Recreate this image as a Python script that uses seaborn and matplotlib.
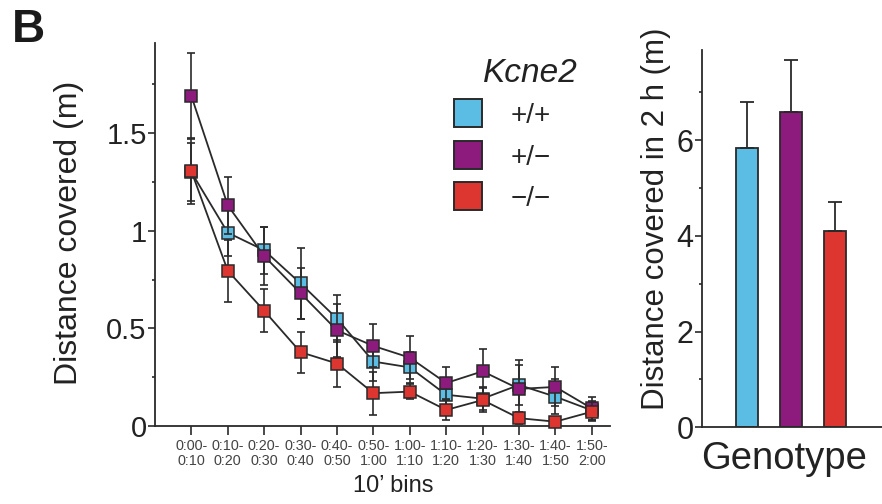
import numpy as np
import pandas as pd
import seaborn as sns
import matplotlib.pyplot as plt
from matplotlib.lines import Line2D
from matplotlib.ticker import MultipleLocator

sns.set_style("ticks")
plt.rcParams["font.family"] = ["Liberation Sans", "DejaVu Sans"]

# 10 min bins
bin_labels = ["0:00-\n0:10", "0:10-\n0:20", "0:20-\n0:30", "0:30-\n0:40",
              "0:40-\n0:50", "0:50-\n1:00", "1:00-\n1:10", "1:10-\n1:20",
              "1:20-\n1:30", "1:30-\n1:40", "1:40-\n1:50", "1:50-\n2:00"]
genotypes = ["+/+", "+/\u2212", "\u2212/\u2212"]
colors = ["#5BBCE4", "#8C1B7D", "#DD3530"]

wt_mean = [1.30, 0.99, 0.90, 0.73, 0.55, 0.33, 0.30, 0.16, 0.14, 0.21, 0.15, 0.08]
wt_sem = [0.15, 0.12, 0.12, 0.18, 0.12, 0.10, 0.08, 0.08, 0.06, 0.10, 0.09, 0.05]
het_mean = [1.69, 1.13, 0.87, 0.68, 0.49, 0.41, 0.35, 0.22, 0.28, 0.19, 0.20, 0.09]
het_sem = [0.22, 0.145, 0.15, 0.13, 0.135, 0.11, 0.11, 0.08, 0.115, 0.15, 0.10, 0.06]
ko_mean = [1.305, 0.795, 0.59, 0.378, 0.32, 0.168, 0.176, 0.082, 0.133, 0.04, 0.022, 0.073]
ko_sem = [0.17, 0.16, 0.11, 0.105, 0.12, 0.11, 0.04, 0.05, 0.06, 0.03, 0.02, 0.05]

# total distance in 2 h
total_mean = [5.83, 6.59, 4.10]
total_sem = [0.97, 1.08, 0.60]

rows = []
for g, m, s in zip(genotypes, [wt_mean, het_mean, ko_mean], [wt_sem, het_sem, ko_sem]):
    for i in range(len(bin_labels)):
        rows.append({"bin": i, "genotype": g, "mean": m[i], "sem": s[i]})
df = pd.DataFrame(rows)
totals = pd.DataFrame({"genotype": genotypes, "total": total_mean, "sem": total_sem})

fig = plt.figure(figsize=(8.82, 5.04), dpi=100)
ax = fig.add_axes([0.1757, 0.1548, 0.5159, 0.7593])
ax2 = fig.add_axes([0.7956, 0.1522, 0.2044, 0.7486])

ink = "#2a2a2a"

# time course: each genotype drawn on top of the previous one
for k, (g, c) in enumerate(zip(genotypes, colors)):
    sub = df[df.genotype == g]
    ax.errorbar(sub["bin"], sub["mean"], yerr=sub["sem"], fmt="none",
                ecolor=ink, elinewidth=1.2, capsize=3.2, capthick=1.2,
                zorder=2 + 3 * k, clip_on=False)
    sns.lineplot(data=sub, x="bin", y="mean", color=ink, linewidth=1.3,
                 marker="s", markersize=9, markerfacecolor=c,
                 markeredgecolor=ink, markeredgewidth=1.1,
                 zorder=3 + 3 * k, ax=ax, clip_on=False)

ax.set_xlim(-1.0, 11.5)
ax.set_ylim(0, 1.96)
ax.set_xticks(range(len(bin_labels)))
ax.set_xticklabels(bin_labels, fontsize=10.4, color="#444444", linespacing=1.1)
ax.set_yticks([0, 0.5, 1, 1.5])
ax.set_yticklabels(["0", "0.5", "1", "1.5"], fontsize=21, color="#222222")
ax.yaxis.set_minor_locator(MultipleLocator(0.25))
ax.tick_params(axis="y", which="major", length=5, width=1.2, pad=1, color=ink)
ax.tick_params(axis="y", which="minor", length=2.5, width=1.2, color=ink)
ax.tick_params(axis="x", which="major", length=6.5, width=1.2, pad=3, color=ink)
for sp in ["left", "bottom"]:
    ax.spines[sp].set_linewidth(1.3)
    ax.spines[sp].set_color(ink)
sns.despine(ax=ax)
ax.set_xlabel("10\u2019 bins", fontsize=17, color="#222222")
ax.xaxis.set_label_coords(0.523, -0.128)
ax.xaxis.label.set_va("top")
ax.set_ylabel("Distance covered (m)", fontsize=23, color="#222222")
ax.yaxis.set_label_coords(-0.157, 0.504)

handles = [Line2D([], [], linestyle="none", marker="s", markersize=20,
                  markerfacecolor=c, markeredgecolor=ink, markeredgewidth=1.4)
           for c in colors]
ax.legend(handles, genotypes, loc="upper left", bbox_to_anchor=(454.6 / 882, 1 - 103 / 504),
          bbox_transform=fig.transFigure, frameon=False, fontsize=20,
          handlelength=1.0, handletextpad=1.0, labelspacing=0.56,
          borderpad=0, borderaxespad=0)
fig.text(530 / 882, 1 - 73 / 504, "Kcne2", fontsize=24, style="italic",
         ha="center", va="center", color="#222222")

# totals
sns.barplot(data=totals, x="genotype", y="total", hue="genotype", palette=colors,
            saturation=1, width=0.5, edgecolor=ink, linewidth=1.3, legend=False, ax=ax2)
ax2.errorbar(range(len(genotypes)), totals["total"],
             yerr=[np.zeros(len(genotypes)), totals["sem"]], fmt="none",
             ecolor=ink, elinewidth=1.3, capsize=4.8, capthick=1.3, zorder=1)
ax2.set_xlim(-1.016, 3.054)
ax2.set_ylim(0, 7.88)
ax2.set_yticks([0, 2, 4, 6])
ax2.set_yticklabels(["0", "2", "4", "6"], fontsize=22, color="#222222")
ax2.yaxis.set_minor_locator(MultipleLocator(1))
ax2.tick_params(axis="y", which="major", length=5, width=1.2, pad=1, color=ink)
ax2.tick_params(axis="y", which="minor", length=2.5, width=1.2, color=ink)
ax2.set_xticks([])
for sp in ["left", "bottom"]:
    ax2.spines[sp].set_linewidth(1.3)
    ax2.spines[sp].set_color(ink)
sns.despine(ax=ax2)
ax2.set_xlabel("Genotype", fontsize=27.5, color="#222222")
ax2.xaxis.set_label_coords(0.456, -0.036)
ax2.xaxis.label.set_va("top")
ax2.set_ylabel("Distance covered in 2 h (m)", fontsize=22.5, color="#222222")
ax2.yaxis.set_label_coords(-0.170, 0.552)

fig.text(12 / 882, 1 - 8 / 504, "B", fontsize=33, fontweight="bold",
         ha="left", va="top", color="#1a1a1a")

fig.savefig("out.png", dpi=100)
